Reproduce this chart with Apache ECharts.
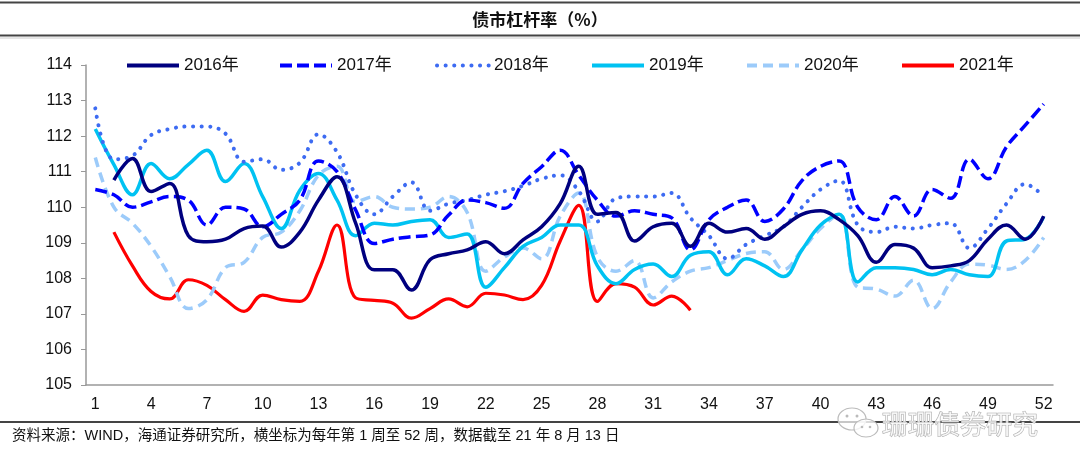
<!DOCTYPE html>
<html><head><meta charset="utf-8">
<script src="https://cdn.jsdelivr.net/npm/echarts@6/dist/echarts.min.js"></script>
<style>html,body{margin:0;padding:0;background:#fff}#c{width:1080px;height:470px}</style>
</head><body><div id="c"></div>
<script>
var weeks = [];
for (var i = 1; i <= 52; i++) weeks.push(String(i));

var y2016 = [null,110.76,111.37,110.44,110.67,109.2,109.03,109.1,109.4,109.47,108.88,109.3,110.2,110.86,109.55,108.24,108.24,107.67,108.52,108.69,108.8,109.03,108.69,109.08,109.45,110.1,111.15,109.8,109.85,109.05,109.45,109.55,108.9,109.55,109.3,109.4,109.1,109.45,109.8,109.9,109.65,109.2,108.45,108.95,108.85,108.3,108.35,108.5,109.1,109.5,109.1,109.75];
var y2017 = [110.5,110.35,110.0,110.15,110.3,110.2,109.5,110.0,109.95,109.45,109.8,110.2,111.3,111.0,109.92,108.98,109.1,109.17,109.22,109.78,110.2,110.13,109.97,110.67,111.14,111.6,110.9,110.2,109.75,109.9,109.8,109.7,108.8,109.65,110.0,110.2,109.6,109.95,110.75,111.15,111.3,110.0,109.65,110.3,109.75,110.5,110.25,111.35,110.8,111.7,112.3,112.9];
var y2018 = [112.78,111.35,111.45,112.03,112.2,112.27,112.27,112.07,111.28,111.35,111.05,111.25,112.05,111.55,110.35,109.8,110.3,110.7,109.9,110.1,110.2,110.35,110.45,110.6,110.8,110.9,110.45,109.6,110.25,110.3,110.3,110.4,109.7,109.2,108.55,108.95,109.2,109.45,110.0,110.5,110.75,109.5,109.3,109.45,109.4,109.5,109.55,108.85,109.4,110.1,110.65,110.3];
var y2019 = [112.2,111.2,110.35,111.23,110.8,111.2,111.6,110.72,111.23,110.3,109.4,110.48,110.95,110.2,109.2,109.55,109.5,109.6,109.65,109.15,109.25,107.75,108.3,108.9,109.15,109.5,109.5,108.35,107.85,108.25,108.4,108.05,108.65,108.75,108.1,108.55,108.35,108.05,108.8,109.5,109.8,107.9,108.3,108.3,108.25,108.1,108.25,108.1,108.05,109.05,109.1,109.73];
var y2020 = [111.4,110.0,109.55,108.9,108.05,107.15,107.4,108.3,108.45,109.15,109.3,109.9,110.9,111.15,110.15,110.3,110.0,109.95,110.0,110.3,109.85,108.2,108.6,108.85,108.55,109.75,110.4,108.6,108.2,108.5,107.45,107.9,108.2,108.3,108.5,108.7,108.75,108.25,108.8,109.4,109.8,107.75,107.7,107.5,107.95,107.15,107.9,108.4,108.37,108.25,108.5,109.15];
var y2021 = [null,109.3,108.35,107.63,107.42,107.96,107.8,107.4,107.07,107.53,107.4,107.35,108.2,109.5,107.45,107.38,107.3,106.88,107.15,107.42,107.2,107.58,107.53,107.4,107.8,109.05,110.05,107.35,107.85,107.75,107.25,107.5,107.1];

var names = ['2016年','2017年','2018年','2019年','2020年','2021年'];
var values = [y2016, y2017, y2018, y2019, y2020, y2021];
var colors = ['#00007F','#0000FF','#3D6BF2','#00C2F2','#9CCBFA','#FF0000'];
var dashes = ['solid',[12,5],[0.1,8.5],'solid',[10,6],'solid'];
var widths = [3.5,3.5,4,3.5,3.5,3.2];
var legendLeft = [120,273,430,585,740,895];

var FONT = 'Liberation Sans, Arial, Noto Sans CJK SC, sans-serif';

var series = names.map(function (n, k) {
  return {
    name: n, type: 'line', data: values[k], smooth: 0.4, showSymbol: false, symbol: 'none',
    connectNulls: false,
    lineStyle: { color: colors[k], width: widths[k], type: dashes[k], cap: k === 2 ? 'round' : 'butt' },
    itemStyle: { color: colors[k] },
    z: 10 - k
  };
});

var legends = names.map(function (n, k) {
  return {
    data: [n], left: legendLeft[k], top: 52, itemWidth: 52, itemHeight: 20, itemGap: 5,
    itemStyle: { opacity: 0, borderWidth: 0 },
    lineStyle: { width: 4 },
    textStyle: { fontSize: 17, color: '#111', fontFamily: FONT }, selectedMode: false
  };
});

var chart = echarts.init(document.getElementById('c'), null, { renderer: 'canvas' });
chart.setOption({
  animation: false,
  backgroundColor: '#fff',
  legend: legends,
  grid: { left: 86, right: 27, top: 65, bottom: 85, containLabel: false },
  xAxis: {
    type: 'category', data: weeks, boundaryGap: true,
    axisLine: { lineStyle: { color: '#999', width: 1.5 } },
    axisTick: { interval: 0, length: 5, lineStyle: { color: '#999' } },
    axisLabel: { interval: 2, fontSize: 16, color: '#111', margin: 12, fontFamily: FONT },
    splitLine: { show: false }
  },
  yAxis: {
    type: 'value', min: 105, max: 114, interval: 1,
    axisLine: { show: true, lineStyle: { color: '#999', width: 1.5 } },
    axisTick: { show: true, length: 5, lineStyle: { color: '#999' } },
    axisLabel: { fontSize: 16, color: '#111', margin: 14, fontFamily: FONT },
    splitLine: { show: false }
  },
  series: series,
  graphic: [
    { type: 'line', shape: { x1: 0, y1: 2.5, x2: 1080, y2: 2.5 }, style: { stroke: '#444', lineWidth: 2 } },
    { type: 'line', shape: { x1: 0, y1: 35.5, x2: 1080, y2: 35.5 }, style: { stroke: '#444', lineWidth: 2 } },
    { type: 'line', shape: { x1: 0, y1: 38, x2: 1080, y2: 38 }, style: { stroke: '#ccc', lineWidth: 1 } },
    { type: 'text', x: 540, y: 20, style: { text: '债市杠杆率（%）', fontSize: 17, fontWeight: 'bold', fill: '#111', align: 'center', verticalAlign: 'middle', fontFamily: 'Noto Sans CJK SC, sans-serif' } },
    { type: 'line', shape: { x1: 0, y1: 422, x2: 1080, y2: 422 }, style: { stroke: '#444', lineWidth: 2 } },
    { type: 'text', x: 12, y: 436, style: { text: '资料来源：WIND，海通证券研究所，横坐标为每年第 1 周至 52 周，数据截至 21 年 8 月 13 日', fontSize: 14.5, fill: '#111', align: 'left', verticalAlign: 'middle', fontFamily: 'Liberation Sans, Noto Sans CJK SC, sans-serif' } },
    { type: 'group', z: 100, children: [
      { type: 'ellipse', shape: { cx: 852, cy: 419, rx: 14, ry: 11 }, style: { fill: 'rgba(255,255,255,0.7)', stroke: '#bbb', lineWidth: 1.2 } },
      { type: 'ellipse', shape: { cx: 866, cy: 428, rx: 12, ry: 9 }, style: { fill: 'rgba(255,255,255,0.8)', stroke: '#bbb', lineWidth: 1.2 } },
      { type: 'circle', shape: { cx: 847, cy: 416, r: 1.5 }, style: { fill: '#bbb' } },
      { type: 'circle', shape: { cx: 857, cy: 416, r: 1.5 }, style: { fill: '#bbb' } },
      { type: 'circle', shape: { cx: 862, cy: 427, r: 1.3 }, style: { fill: '#bbb' } },
      { type: 'circle', shape: { cx: 870, cy: 427, r: 1.3 }, style: { fill: '#bbb' } },
      { type: 'text', x: 882, y: 424, style: { text: '珊珊债券研究', fontSize: 26, fill: 'rgba(255,255,255,0.75)', stroke: '#aaa', lineWidth: 1, align: 'left', verticalAlign: 'middle', fontFamily: 'Noto Sans CJK SC, sans-serif' } }
    ]}
  ]
});
</script></body></html>
